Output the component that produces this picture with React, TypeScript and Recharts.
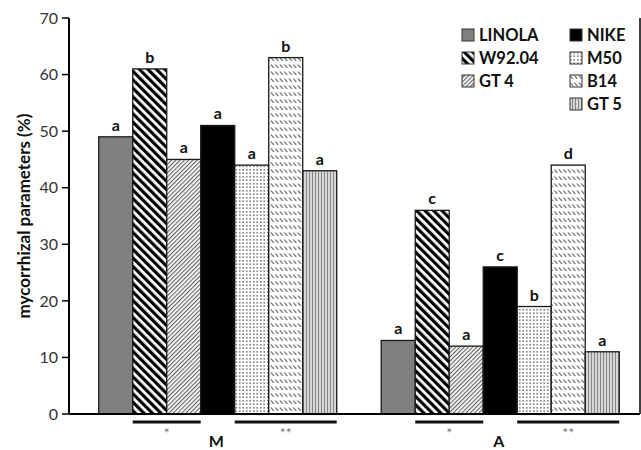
import React from "react";
import { Bar, BarChart, LabelList, XAxis, YAxis } from "recharts";

const groups = ["M", "A"];
const LINOLA = [49, 13];
const W9204 = [61, 36];
const GT4 = [45, 12];
const NIKE = [51, 26];
const M50 = [44, 19];
const B14 = [63, 44];
const GT5 = [43, 11];

const LINOLA_L = ["a", "a"];
const W9204_L = ["b", "c"];
const GT4_L = ["a", "a"];
const NIKE_L = ["a", "c"];
const M50_L = ["a", "b"];
const B14_L = ["b", "d"];
const GT5_L = ["a", "a"];

const yTicks = [0, 10, 20, 30, 40, 50, 60, 70];

const FONT = "Lato, 'Open Sans', sans-serif";

const series = [
  { key: "LINOLA", name: "LINOLA", values: LINOLA, letters: LINOLA_L, fill: "#808080" },
  { key: "W92", name: "W92.04", values: W9204, letters: W9204_L, fill: "url(#pW92)", span: 2, mark: "*" },
  { key: "GT4", name: "GT 4", values: GT4, letters: GT4_L, fill: "url(#pGT4)" },
  { key: "NIKE", name: "NIKE", values: NIKE, letters: NIKE_L, fill: "#000" },
  { key: "M50", name: "M50", values: M50, letters: M50_L, fill: "url(#pM50)", span: 3, mark: "**" },
  { key: "B14", name: "B14", values: B14, letters: B14_L, fill: "url(#pB14)" },
  { key: "GT5", name: "GT 5", values: GT5, letters: GT5_L, fill: "url(#pGT5)" },
];

const data = groups.map((g, i) => {
  const row: Record<string, string | number> = { group: g };
  series.forEach((s) => {
    row[s.key] = s.values[i];
    row[s.key + "_l"] = s.letters[i];
  });
  return row;
});

function Patterns() {
  return (
    <svg width={0} height={0} style={{ position: "absolute" }}>
      <defs>
        <pattern id="pW92" patternUnits="userSpaceOnUse" width="6" height="6" patternTransform="rotate(-45)">
          <rect width="6" height="6" fill="#fff" />
          <rect width="3.2" height="6" fill="#000" />
        </pattern>
        <pattern id="pGT4" patternUnits="userSpaceOnUse" width="3" height="3" patternTransform="rotate(45)">
          <rect width="3" height="3" fill="#fff" />
          <rect width="1.2" height="3" fill="#666" />
        </pattern>
        <pattern id="pM50" patternUnits="userSpaceOnUse" width="3.5" height="3.5">
          <rect width="3.5" height="3.5" fill="#fff" />
          <circle cx="1.75" cy="1.75" r="0.8" fill="#555" />
        </pattern>
        <pattern id="pB14" patternUnits="userSpaceOnUse" width="4.5" height="7">
          <rect width="4.5" height="7" fill="#fff" />
          <line x1="0.8" y1="1.5" x2="3.8" y2="4.8" stroke="#555" strokeWidth="1.1" />
        </pattern>
        <pattern id="pGT5" patternUnits="userSpaceOnUse" width="3" height="3">
          <rect width="3" height="3" fill="#d6d6d6" />
          <rect width="1" height="3" fill="#888" />
        </pattern>
      </defs>
    </svg>
  );
}

const makeShape = (fill: string, span?: number, mark?: string) => (props: any) => {
  const { x, y, width, height } = props;
  const base = y + height;
  return (
    <g>
      <rect x={x} y={y} width={width} height={height} fill={fill} stroke="#1a1a1a" strokeWidth={1.3} />
      {span ? (
        <g>
          <line x1={x} x2={x + span * width} y1={base + 8} y2={base + 8} stroke="#111" strokeWidth={3} />
          <text x={x + (span * width) / 2} y={base + 24} textAnchor="middle" fontSize={14} fill="#777" fontFamily={FONT}>
            {mark}
          </text>
        </g>
      ) : null}
    </g>
  );
};

const GroupTick = (props: any) => {
  const { x, y, payload } = props;
  return (
    <text x={x} y={y + 25} textAnchor="middle" fontSize={16} fontWeight="bold" fill="#111" fontFamily={FONT}>
      {payload.value}
    </text>
  );
};

function LegendCol({ items, left, top }: { items: typeof series; left: number; top: number }) {
  return (
    <div style={{ position: "absolute", left, top, fontFamily: FONT, fontWeight: "bold", fontSize: 16.5, color: "#111" }}>
      {items.map((s) => (
        <div key={s.key} style={{ height: 23, display: "flex", alignItems: "center" }}>
          <svg width={14} height={14} style={{ marginRight: 4 }}>
            <rect x={1} y={1} width={12} height={12} fill={s.fill} stroke="#333" strokeWidth={1} />
          </svg>
          <span>{s.name}</span>
        </div>
      ))}
    </div>
  );
}

export default function App() {
  return (
    <div style={{ position: "absolute", left: 0, top: 0, width: 641, height: 450, background: "#fff" }}>
      <Patterns />
      <BarChart
        width={641}
        height={450}
        data={data}
        margin={{ top: 18, right: 0, left: 0, bottom: 0 }}
        barCategoryGap="8.4%"
        barGap={0}
      >
        <XAxis
          dataKey="group"
          height={36}
          tickLine={false}
          axisLine={{ stroke: "#000", strokeWidth: 2 }}
          tick={<GroupTick />}
          padding={{ left: 6, right: 0 }}
        />
        <XAxis xAxisId="top" dataKey="group" orientation="top" height={0} tick={false} tickLine={false} axisLine={{ stroke: "#000", strokeWidth: 1.5 }} />
        <YAxis
          width={69}
          domain={[0, 70]}
          ticks={yTicks}
          tickSize={7}
          tickMargin={4}
          tick={{ fontSize: 16, fill: "#333", fontFamily: FONT }}
          axisLine={{ stroke: "#000", strokeWidth: 2 }}
          tickLine={{ stroke: "#000", strokeWidth: 1.5 }}
          label={{
            value: "mycorrhizal parameters (%)",
            angle: -90,
            position: "insideLeft",
            offset: 24,
            style: { textAnchor: "middle", fontSize: 17, fontWeight: "bold", fill: "#111", fontFamily: FONT },
          }}
        />
        <YAxis yAxisId="right" orientation="right" width={1} domain={[0, 70]} tick={false} tickLine={false} axisLine={{ stroke: "#000", strokeWidth: 1.5 }} />
        {series.map((s) => (
          <Bar key={s.key} dataKey={s.key} name={s.name} isAnimationActive={false} shape={makeShape(s.fill, s.span, s.mark)}>
            <LabelList
              dataKey={s.key + "_l"}
              position="top"
              offset={6}
              style={{ fontSize: 16, fontWeight: "bold", fill: "#111", fontFamily: FONT }}
            />
          </Bar>
        ))}
      </BarChart>
      <LegendCol items={series.slice(0, 3)} left={461} top={23} />
      <LegendCol items={series.slice(3)} left={569} top={23} />
    </div>
  );
}
